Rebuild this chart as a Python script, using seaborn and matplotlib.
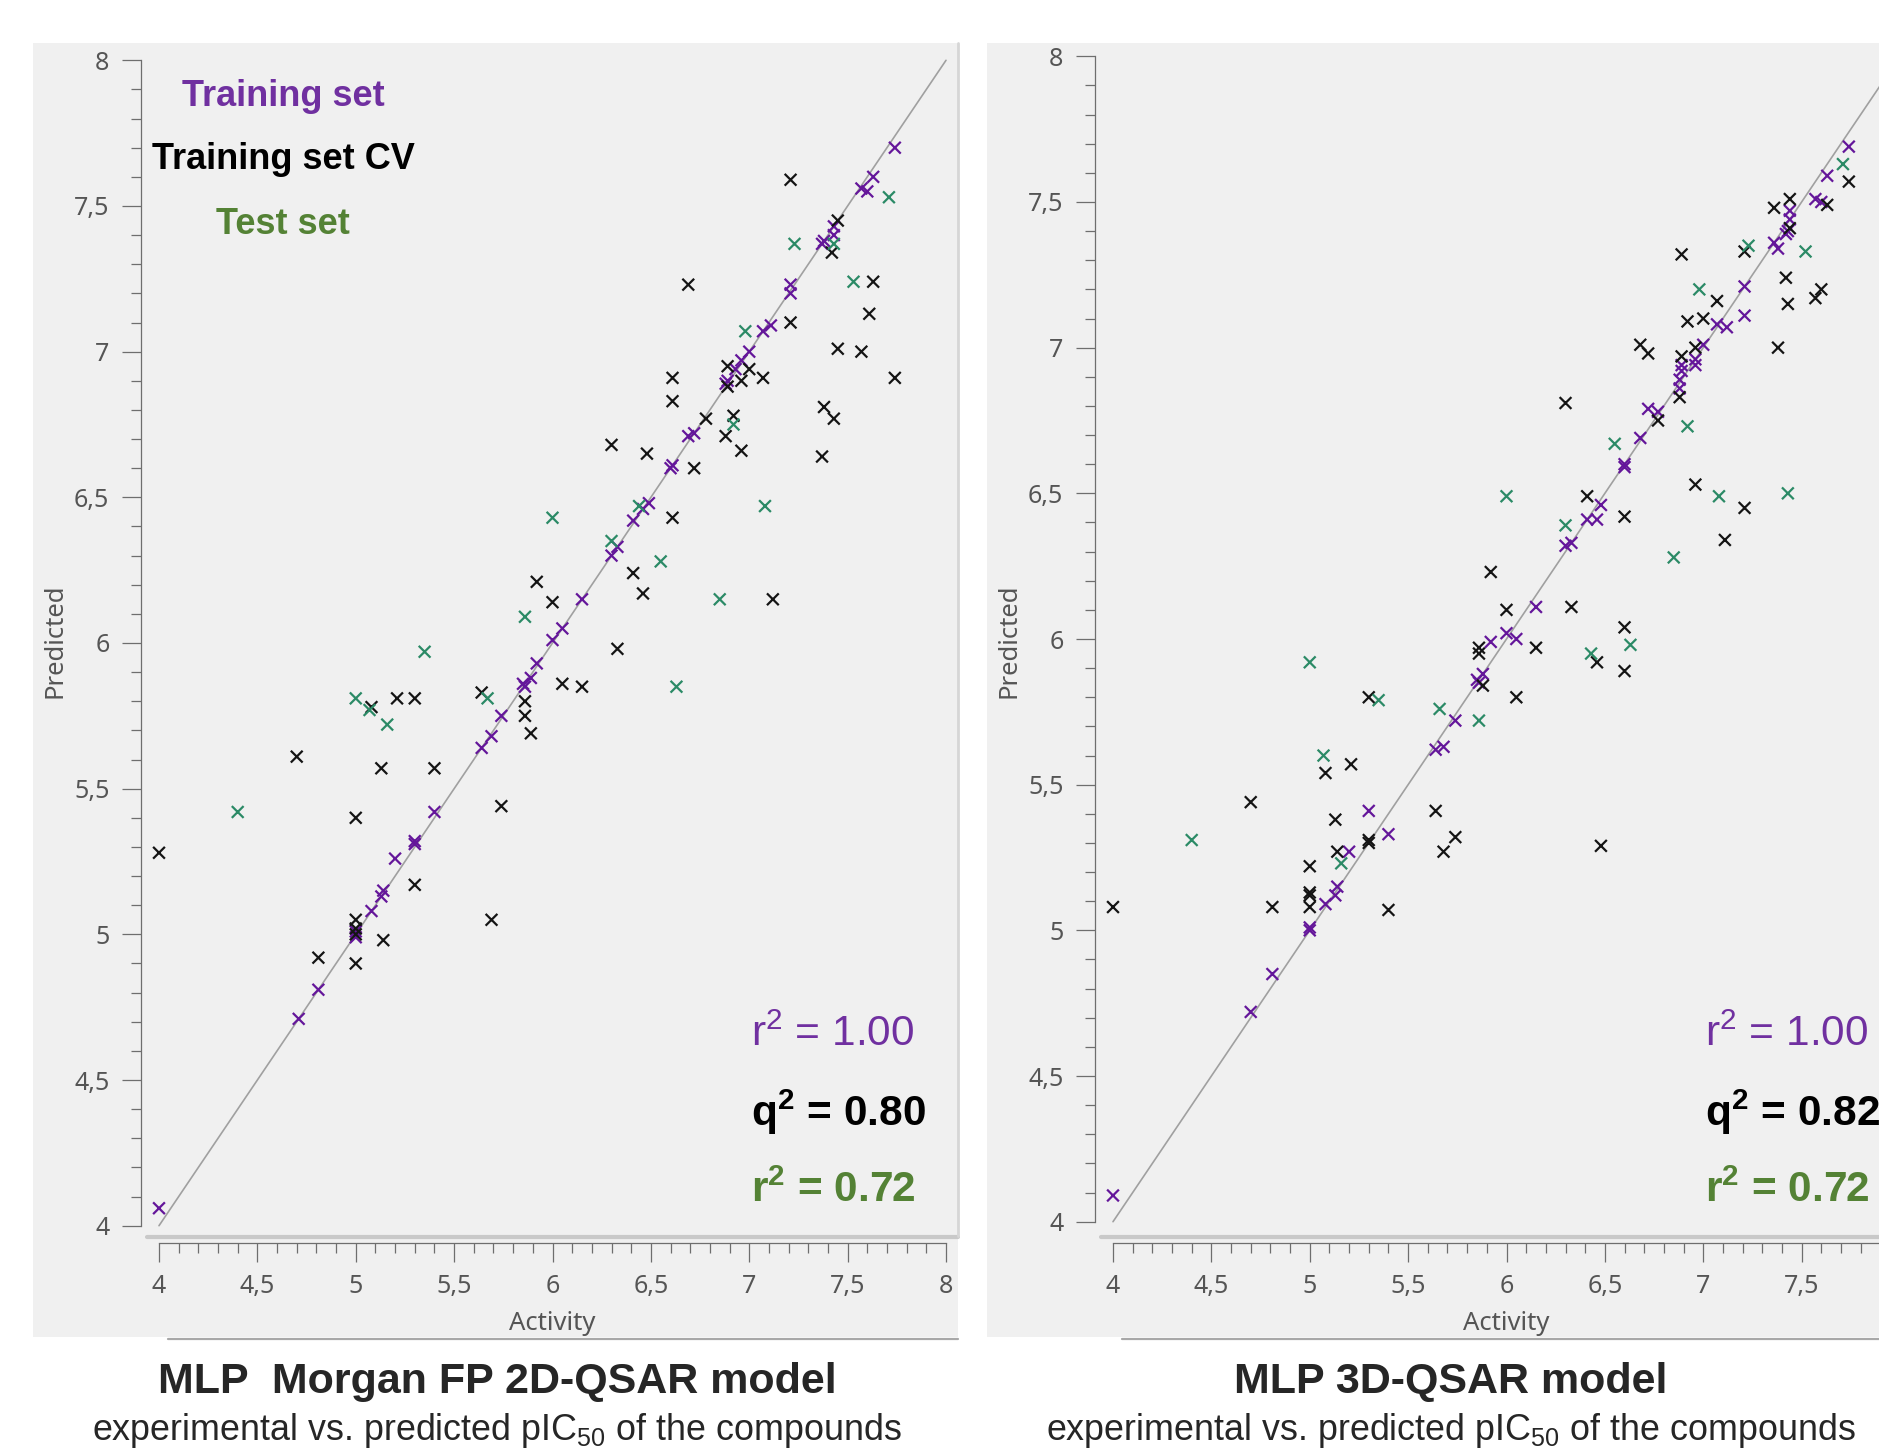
import numpy as np
import pandas as pd
import matplotlib
matplotlib.use("Agg")
import matplotlib.pyplot as plt
from matplotlib.patches import Rectangle
from matplotlib.lines import Line2D
from matplotlib.ticker import MultipleLocator, FuncFormatter
import seaborn as sns

sns.set_style("ticks")
plt.rcParams["font.family"] = ["Liberation Sans", "DejaVu Sans"]
plt.rcParams["mathtext.fontset"] = "custom"
plt.rcParams["mathtext.rm"] = "Liberation Sans"
plt.rcParams["mathtext.it"] = "Liberation Sans:italic"
plt.rcParams["mathtext.bf"] = "Liberation Sans:bold"

# ---- data: (activity, predicted) per set ----
# MLP Morgan FP 2D-QSAR model
train2d_act = [7.74, 7.63, 7.57, 7.60, 7.43, 7.43, 7.38, 7.37, 7.21, 7.21, 7.11, 7.07,
               7.00, 6.96, 6.93, 6.89, 6.88, 6.69, 6.72, 6.61, 6.60, 6.46, 6.49, 6.41,
               6.33, 6.30, 6.15, 6.05, 6.00, 5.92, 5.89, 5.85, 5.86, 5.74, 5.69, 5.64,
               5.40, 5.30, 5.30, 5.20, 5.14, 5.13, 5.08, 5.00, 5.00, 4.81, 4.71, 4.00]
train2d_pred = [7.70, 7.60, 7.56, 7.55, 7.43, 7.40, 7.38, 7.37, 7.23, 7.20, 7.09, 7.07,
                7.00, 6.97, 6.94, 6.90, 6.89, 6.71, 6.72, 6.61, 6.60, 6.46, 6.48, 6.42,
                6.33, 6.30, 6.15, 6.05, 6.01, 5.93, 5.88, 5.86, 5.85, 5.75, 5.68, 5.64,
                5.42, 5.32, 5.31, 5.26, 5.15, 5.13, 5.08, 5.01, 4.99, 4.81, 4.71, 4.06]
cv2d_act = [7.21, 7.45, 7.42, 7.63, 6.69, 7.61, 7.21, 7.45, 7.57, 6.89, 7.00, 6.96,
            7.07, 6.89, 6.61, 7.74, 6.61, 6.78, 6.92, 7.38, 7.43, 6.88, 6.48, 6.96,
            6.72, 7.37, 6.61, 6.30, 6.41, 6.46, 5.92, 6.00, 7.12, 6.33, 6.05, 6.15,
            5.64, 5.86, 5.08, 5.21, 5.30, 5.86, 5.89, 4.70, 5.13, 5.40, 5.74, 5.00,
            4.00, 5.30, 5.00, 5.00, 5.00, 5.14, 5.69, 4.81, 5.00]
cv2d_pred = [7.59, 7.45, 7.34, 7.24, 7.23, 7.13, 7.10, 7.01, 7.00, 6.95, 6.94, 6.90,
             6.91, 6.88, 6.91, 6.91, 6.83, 6.77, 6.78, 6.81, 6.77, 6.71, 6.65, 6.66,
             6.60, 6.64, 6.43, 6.68, 6.24, 6.17, 6.21, 6.14, 6.15, 5.98, 5.86, 5.85,
             5.83, 5.80, 5.78, 5.81, 5.81, 5.75, 5.69, 5.61, 5.57, 5.57, 5.44, 5.40,
             5.28, 5.17, 5.05, 5.00, 5.02, 4.98, 5.05, 4.92, 4.90]
test2d_act = [7.71, 7.43, 7.23, 7.53, 6.98, 6.92, 6.44, 7.08, 6.00, 6.30, 6.55, 5.86,
              5.35, 6.63, 5.67, 5.00, 5.07, 5.16, 4.40, 6.85]
test2d_pred = [7.53, 7.37, 7.37, 7.24, 7.07, 6.75, 6.47, 6.47, 6.43, 6.35, 6.28, 6.09,
               5.97, 5.85, 5.81, 5.81, 5.77, 5.72, 5.42, 6.15]

# MLP 3D-QSAR model
train3d_act = [7.74, 7.63, 7.57, 7.60, 7.44, 7.44, 7.43, 7.42, 7.36, 7.38, 7.21, 7.07,
               7.12, 7.21, 7.00, 6.89, 6.89, 6.88, 6.88, 6.96, 6.96, 6.72, 6.77, 6.68,
               6.60, 6.60, 6.48, 6.41, 6.46, 6.30, 6.33, 6.15, 5.92, 6.00, 6.05, 5.88,
               5.85, 5.86, 5.74, 5.64, 5.68, 5.30, 5.40, 5.20, 5.14, 5.13, 5.08, 5.00,
               5.00, 4.81, 4.70, 4.00]
train3d_pred = [7.69, 7.59, 7.51, 7.50, 7.47, 7.44, 7.40, 7.39, 7.36, 7.34, 7.21, 7.08,
                7.07, 7.11, 7.01, 6.94, 6.92, 6.89, 6.86, 6.96, 6.94, 6.79, 6.78, 6.69,
                6.59, 6.60, 6.46, 6.41, 6.41, 6.32, 6.33, 6.11, 5.99, 6.02, 6.00, 5.88,
                5.86, 5.85, 5.72, 5.62, 5.63, 5.41, 5.33, 5.27, 5.15, 5.12, 5.09, 5.00,
                5.01, 4.85, 4.72, 4.09]
cv3d_act = [7.74, 7.63, 7.44, 7.36, 7.44, 7.21, 6.89, 7.42, 7.57, 7.60, 7.07, 7.43,
            6.92, 7.00, 7.38, 6.96, 6.68, 6.72, 6.89, 6.88, 6.30, 6.77, 6.96, 7.21,
            7.11, 6.41, 6.60, 5.92, 6.00, 6.33, 6.60, 6.60, 6.46, 6.15, 5.86, 5.86,
            5.88, 6.05, 5.30, 5.21, 5.08, 5.64, 5.13, 5.30, 5.30, 5.74, 5.68, 6.48,
            5.14, 5.00, 5.00, 5.00, 5.00, 4.81, 5.40, 4.70, 4.00]
cv3d_pred = [7.57, 7.49, 7.51, 7.48, 7.41, 7.33, 7.32, 7.24, 7.17, 7.20, 7.16, 7.15,
             7.09, 7.10, 7.00, 7.00, 7.01, 6.98, 6.97, 6.83, 6.81, 6.75, 6.53, 6.45,
             6.34, 6.49, 6.42, 6.23, 6.10, 6.11, 6.04, 5.89, 5.92, 5.97, 5.97, 5.95,
             5.84, 5.80, 5.80, 5.57, 5.54, 5.41, 5.38, 5.31, 5.30, 5.32, 5.27, 5.29,
             5.27, 5.22, 5.13, 5.12, 5.08, 5.08, 5.07, 5.44, 5.08]
test3d_act = [7.71, 7.52, 7.23, 6.98, 6.92, 6.55, 7.08, 7.43, 6.00, 6.30, 6.85, 6.63,
              6.43, 5.00, 5.35, 5.66, 5.86, 5.07, 5.16, 4.40]
test3d_pred = [7.63, 7.33, 7.35, 7.20, 6.73, 6.67, 6.49, 6.50, 6.49, 6.39, 6.28, 5.98,
               5.95, 5.92, 5.79, 5.76, 5.72, 5.60, 5.23, 5.31]

set_names = ["Training set", "Training set CV", "Test set"]
diag = [4, 8]
titles = ["MLP  Morgan FP 2D-QSAR model", "MLP 3D-QSAR model"]
subtitle = r"experimental vs. predicted pIC$_{50}$ of the compounds"
stats_2d = [r"r$^{2}$ = 1.00", r"q$^{\mathbf{2}}$ = 0.80", r"r$^{\mathbf{2}}$ = 0.72"]
stats_3d = [r"r$^{2}$ = 1.00", r"q$^{\mathbf{2}}$ = 0.82", r"r$^{\mathbf{2}}$ = 0.72"]

marker_pal = {"Training set": "#64169a", "Training set CV": "#141414", "Test set": "#2b8a66"}
text_cols = ["#7030a0", "#000000", "#548235"]

W, H = 1879, 1448
PX_X = 196.75   # pixels per activity unit
PX_Y = 291.35   # pixels per predicted unit


def fx(px):
    return px / W


def fy(py):
    return 1 - py / H


def make_df(groups):
    parts = []
    for name, (a, p) in zip(set_names, groups):
        parts.append(pd.DataFrame({"Activity": a, "Predicted": p, "set": name}))
    return pd.concat(parts, ignore_index=True)


def comma_fmt(vmax):
    # decimal comma; labels past the cropped edge are left out
    return FuncFormatter(lambda v, pos: f"{v:g}".replace(".", ",") if v <= vmax + 1e-9 else "")


fig = plt.figure(figsize=(W / 100, H / 100), dpi=100)
fig.patch.set_facecolor("white")


def draw_panel(shift, y4, df, stats, title, legend, xmax_label):
    # panel background
    fig.add_artist(Rectangle((fx(33 + shift), fy(1337)), fx(925), 1294 / H,
                             transform=fig.transFigure, facecolor="#f0f0f0",
                             edgecolor="none", zorder=0))
    fig.add_artist(Line2D([fx(958 + shift)] * 2, [fy(43), fy(1236)],
                          transform=fig.transFigure, color="#d6d6d6", lw=2, zorder=0.5))
    fig.add_artist(Line2D([fx(168 + shift), fx(958 + shift)], [fy(1338.5)] * 2,
                          transform=fig.transFigure, color="#a8a8a8", lw=1.6, zorder=0.5))

    spine = 141 + shift
    x4 = 159 + shift
    top, bot = 44, 1237
    ax = fig.add_axes([fx(spine), fy(bot), fx(817), (bot - top) / H])
    ax.set_facecolor("none")
    ax.set_xlim(4 - (x4 - spine) / PX_X, 4 + (spine + 817 - x4) / PX_X)
    ax.set_ylim(4 - (bot - y4) / PX_Y, 4 + (y4 - top) / PX_Y)

    ax.plot(diag, diag, color="#a0a0a0", lw=1.2, zorder=1)
    sns.scatterplot(data=df, x="Activity", y="Predicted", hue="set", palette=marker_pal,
                    marker="x", s=72, linewidth=1.6, legend=False, ax=ax, zorder=3)

    for s in ["top", "right"]:
        ax.spines[s].set_visible(False)
    ax.spines["left"].set_bounds(4, 8)
    ax.spines["bottom"].set_bounds(4, 8)
    ax.spines["bottom"].set_position(("outward", 4.3))
    for s in ["left", "bottom"]:
        ax.spines[s].set_color("#6e6e6e")
        ax.spines[s].set_linewidth(0.9)
    ax.plot([0.007, 1], [0, 0], transform=ax.transAxes, clip_on=False,
            color="#c9c9c9", lw=3, zorder=2)

    for axis in (ax.xaxis, ax.yaxis):
        axis.set_major_locator(MultipleLocator(0.5))
        axis.set_minor_locator(MultipleLocator(0.1))
    ax.xaxis.set_major_formatter(comma_fmt(xmax_label))
    ax.yaxis.set_major_formatter(comma_fmt(8))
    ax.tick_params(which="both", direction="out", color="#6e6e6e", width=0.9,
                   labelsize=18, labelcolor="#555555")
    ax.tick_params(axis="y", which="major", length=13.7, pad=9)
    ax.tick_params(axis="y", which="minor", length=7)
    ax.tick_params(axis="x", which="major", length=13.5, pad=9)
    ax.tick_params(axis="x", which="minor", length=7.2)
    for lab in ax.get_xticklabels() + ax.get_yticklabels():
        lab.set_family("Noto Sans")

    ax.set_xlabel("Activity", fontsize=18.5, color="#555555", family="Noto Sans")
    ax.set_ylabel("Predicted", fontsize=18.5, color="#555555", family="Noto Sans")
    ax.xaxis.set_label_coords((552 + shift - spine) / 817, -(1311 - bot) / (bot - top))
    ax.yaxis.set_label_coords((68 + shift - spine) / 817, 0.5)

    if legend:
        for name, col, py in zip(set_names, text_cols, [105.8, 169, 234]):
            fig.text(fx(283 + shift), fy(py), name, color=col, fontsize=26,
                     fontweight="bold", ha="center", va="baseline")

    for txt, col, py, wt in zip(stats, text_cols, [1046, 1126, 1202],
                                ["normal", "bold", "bold"]):
        fig.text(fx(751 + shift), fy(py), txt, color=col, fontsize=30.5,
                 fontweight=wt, ha="left", va="baseline")

    fig.text(fx(497 + shift), fy(1393), title, fontsize=31, fontweight="bold",
             ha="center", va="baseline")
    fig.text(fx(497 + shift), fy(1440), subtitle, fontsize=25.8,
             ha="center", va="baseline")
    return ax


df2d = make_df([(train2d_act, train2d_pred), (cv2d_act, cv2d_pred), (test2d_act, test2d_pred)])
df3d = make_df([(train3d_act, train3d_pred), (cv3d_act, cv3d_pred), (test3d_act, test3d_pred)])

draw_panel(0, 1225.7, df2d, stats_2d, titles[0], True, 8)
draw_panel(954, 1221.7, df3d, stats_3d, titles[1], False, 7.5)

fig.savefig("out.png", dpi=100, facecolor="white")
